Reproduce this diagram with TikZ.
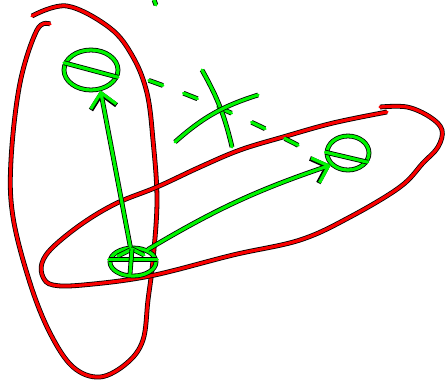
\documentclass[tikz,border=0pt]{standalone}
\usepackage{tikz}
\usepackage{xcolor}
\usetikzlibrary{arrows.meta}
\usetikzlibrary{shapes.geometric}
\definecolor{pen}{RGB}{0,245,0}
\definecolor{ink}{RGB}{250,0,0}

\begin{document}
\begin{tikzpicture}[x=1pt, y=-1pt,
        stroke/.style={line width=3.2pt, line cap=round, line join=round,
            preaction={draw=black, line width=4.8pt}},
        gap/.style={line width=3.2pt, line cap=round, dash pattern=on 15pt off 22pt,
            preaction={draw=black, line width=4.8pt, dash pattern=on 15pt off 22pt}},
        blob/.style={ellipse, draw=pen, stroke, inner sep=0pt},
        barb/.style={-{Straight Barb[length=14pt, width=26pt]}}]
    \useasboundingbox (0,0) rectangle (445,384);

    % the two loops
    \draw[stroke, draw=ink] plot[smooth, tension=0.6] coordinates {(32,16) (67,6) (110,28) (133,57) (147,93)
        (153,140) (157,200) (153,260) (148,300) (143,340) (127,363) (100,377) (73,367) (50,333)
        (30,283) (13,217) (11,160) (20,83) (37,30) (50,24)};
    \draw[stroke, draw=ink] plot[smooth, tension=0.6] coordinates {(380,107) (407,107) (430,117) (442,130)
        (438,147) (423,163) (400,187) (350,217) (300,240) (233,255) (150,276) (83,285) (53,285)
        (43,277) (42,263) (53,247) (83,223) (117,203) (157,187) (200,167) (240,150) (283,137)
        (333,123) (387,112)};

    \node[blob, minimum width=46pt, minimum height=28pt] (s) at (133,262) {}; % start
    \node[blob, minimum width=54pt, minimum height=40pt] (t1) at (91,70) {};
    \node[blob, minimum width=42pt, minimum height=34pt] (t2) at (348,153) {};

    % marks inside
    \draw[stroke, draw=pen] (s.175) -- (s.5);
    \draw[stroke, draw=pen] (118,256) -- (132,249) -- (144,255);
    \draw[stroke, draw=pen] (132,249) -- (130,274);
    \draw[stroke, draw=pen] (t1.165) -- (t1.-15);
    \draw[stroke, draw=pen] (t2.178) -- (t2.-25);

    \draw[stroke, draw=pen, barb] (s.100) -- (t1.-65);
    \draw[stroke, draw=pen, barb] (s.40) to[bend left=6] (t2.215);

    % crossed out link
    \draw[gap, draw=pen, shorten <=31pt, shorten >=30pt]
        (t1.east) to[bend left=4] (t2.200);
    \draw[stroke, draw=pen] (202,70) to[bend left=8] (232,147);
    \draw[stroke, draw=pen] (175,142) to[bend left=12] (258,95);

    \draw[stroke, draw=pen] (154,0) -- (156,5);
\end{tikzpicture}
\end{document}
